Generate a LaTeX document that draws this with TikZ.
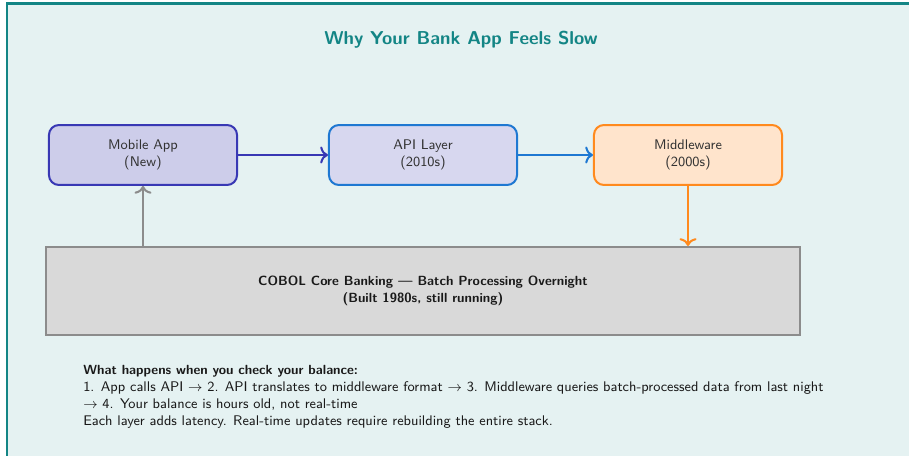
\documentclass[tikz,border=0pt]{standalone}
\usepackage{xcolor}
\usetikzlibrary{arrows.meta}
\definecolor{frameteal}{HTML}{138585}
\definecolor{bgteal}{HTML}{E5F2F2}
\definecolor{mobedge}{HTML}{3838B4}
\definecolor{mobfill}{HTML}{CDCDEA}
\definecolor{apiedge}{HTML}{1E78D2}
\definecolor{apifill}{HTML}{D7D7EF}
\definecolor{midedge}{HTML}{FF8A1E}
\definecolor{midfill}{HTML}{FFE4CC}
\definecolor{coreedge}{HTML}{8C8C8C}
\definecolor{corefill}{HTML}{D9D9D9}
\definecolor{labeltext}{HTML}{333333}
% bold text of the boxes and notes, set a little tighter than \small
\newcommand{\boldnote}{\fontsize{8.55}{11}\selectfont\bfseries}
\begin{document}
\begin{tikzpicture}[x=0.6439pt, y=-0.6439pt, font=\sffamily\small,
  layerbox/.style={draw, rounded corners=6.4pt, line width=1.3pt,
    minimum width=121.1pt, minimum height=38.6pt, align=center, text=labeltext},
  corebox/.style={draw=coreedge, fill=corefill, line width=1.3pt,
    minimum width=485.5pt, minimum height=56.7pt, align=center,
    font=\sffamily\boldnote, text=black!90},
  flow/.style={-{To[length=5pt,width=11pt]}, line width=1.3pt}]
\useasboundingbox (0,0) rectangle (909,456);
% page background with its teal frame
\begin{scope}
  \clip (0,0) rectangle (909,456);
  \draw[frameteal, line width=1.3pt, fill=bgteal] (7,3.5) rectangle (930,480);
\end{scope}

\node[text=frameteal, font=\sffamily\bfseries\large] (title) at (461,40)
  {Why Your Bank App Feels Slow};

% the layers of the stack
\node[layerbox, draw=mobedge, fill=mobfill] (mobile) at (143,155) {Mobile App\\(New)};
\node[layerbox, draw=apiedge, fill=apifill] (api) at (423,155) {API Layer\\(2010s)};
\node[layerbox, draw=midedge, fill=midfill] (mid) at (688,155) {Middleware\\(2000s)};
\node[corebox] (core) at (423,291)
  {COBOL Core Banking --- Batch Processing Overnight\\(Built 1980s, still running)};

% request flow
\draw[flow, mobedge] (mobile) -- (api);
\draw[flow, apiedge] (api) -- (mid);
\draw[flow, midedge] (mid.south) -- (mid.south |- core.north);
\draw[flow, coreedge] (core.north -| mobile.south) -- (mobile.south);

% explanation below
\node[anchor=north west, align=left, inner sep=0pt, text=black!90] (notes) at (83,365)
  {{\boldnote What happens when you check your balance:}\\
   1. App calls API $\rightarrow$ 2. API translates to middleware format $\rightarrow$ 3. Middleware queries batch-processed data from last night\\
   $\rightarrow$ 4. Your balance is hours old, not real-time\\
   Each layer adds latency. Real-time updates require rebuilding the entire stack.};
\end{tikzpicture}
\end{document}
